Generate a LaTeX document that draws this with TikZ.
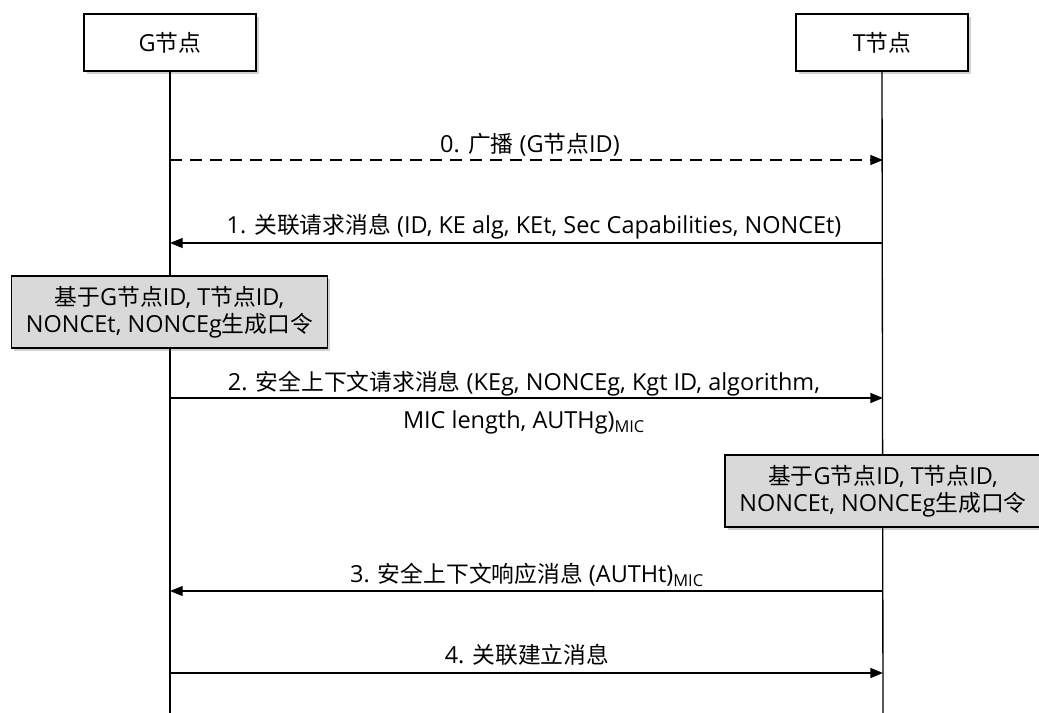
\documentclass[tikz,border=0pt]{standalone}
\usepackage{fontspec}
\setmainfont{Open Sans}
\newfontfamily\cjkfam[Scale=0.97]{Noto Sans CJK SC}
\newcommand{\zh}[1]{{\cjkfam #1}}
\usetikzlibrary{arrows.meta,shadows}
\begin{document}
\begin{tikzpicture}[x=0.75pt,y=-0.75pt,
  font=\fontsize{17.6}{20}\selectfont,
  actor/.style={draw=black,line width=1.1pt,fill=white,minimum width=172*0.75pt,minimum height=57*0.75pt,inner sep=0pt,
    drop shadow={shadow xshift=2pt,shadow yshift=-2pt,opacity=0.3,fill=black!60}},
  note/.style={draw=black,line width=1.1pt,fill=black!15,minimum width=316*0.75pt,minimum height=72*0.75pt,inner sep=0pt,align=center,
    drop shadow={shadow xshift=2pt,shadow yshift=-2pt,opacity=0.3,fill=black!60}},
  life/.style={line width=1pt},
  msg/.style={line width=1pt,-{Triangle[length=9.5pt,width=7.5pt]}},
  lbl/.style={inner sep=1pt,align=center}]
\useasboundingbox (0,0) rectangle (1039,713);
\coordinate (gb) at (170,713);
\coordinate (tb) at (883,713);
\node[actor] (G) at (170,42.5) {G\zh{节点}};
\node[actor] (T) at (882,42.5) {T\zh{节点}};
\draw[life] (G.south) -- (gb);
\draw[life] (T.south) -- (tb);
\coordinate (g0) at (170,160); \coordinate (t0) at (883,160);
\coordinate (g1) at (170,243); \coordinate (t1) at (883,243);
\coordinate (g2) at (170,398); \coordinate (t2) at (883,398);
\coordinate (g3) at (170,591); \coordinate (t3) at (883,591);
\coordinate (g4) at (170,673); \coordinate (t4) at (883,673);
\node[note] (N1) at (169.5,312) {\zh{基于}G\zh{节点}ID, T\zh{节点}ID,\\NONCEt, NONCEg\zh{生成口令}};
\node[note] (N2) at (883,491) {\zh{基于}G\zh{节点}ID, T\zh{节点}ID,\\NONCEt, NONCEg\zh{生成口令}};
\draw[msg,dashed,dash pattern=on 9pt off 6pt] (g0) -- (t0);
\node[lbl] (l0) at (530,145) {0. \zh{广播} (G\zh{节点}ID)};
\draw[msg] (t1) -- (g1);
\node[lbl] (l1) at (534,227) {1. \zh{关联请求消息} (ID, KE alg, KEt, Sec Capabilities, NONCEt)};
\draw[msg] (g2) -- (t2);
\node[lbl,font=\fontsize{17.6}{28.5}\selectfont] (l2) at (524,403) {2. \zh{安全上下文请求消息} (KEg, NONCEg, Kgt ID, algorithm,\\MIC length, AUTHg)\textsubscript{MIC}};
\draw[msg] (t3) -- (g3);
\node[lbl] (l3) at (527,575) {3. \zh{安全上下文响应消息} (AUTHt)\textsubscript{MIC}};
\draw[msg] (g4) -- (t4);
\node[lbl] (l4) at (527,655) {4. \zh{关联建立消息}};
\end{tikzpicture}
\end{document}
